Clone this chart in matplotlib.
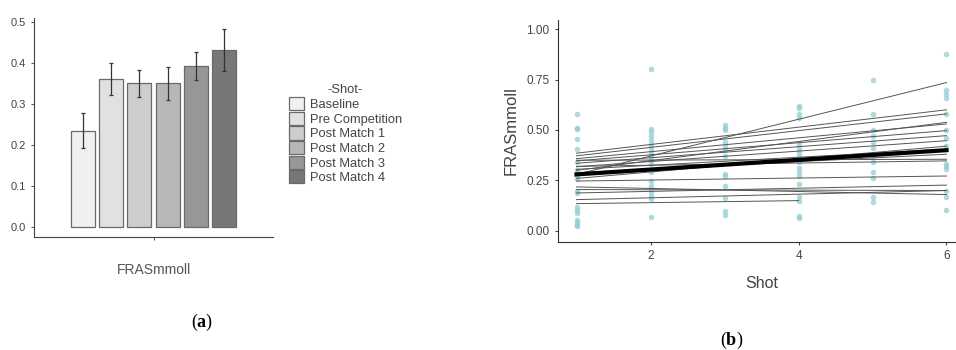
import matplotlib
matplotlib.use("Agg")
import matplotlib.pyplot as plt
import numpy as np

plt.rcParams["font.family"] = ["Liberation Sans", "DejaVu Sans"]
plt.rcParams["mathtext.fontset"] = "custom"
plt.rcParams["mathtext.rm"] = "Liberation Serif"
plt.rcParams["mathtext.bf"] = "Liberation Serif:bold"

# ---- panel (a): mean FRAS by shot ----
shots = ["Baseline", "Pre Competition", "Post Match 1", "Post Match 2",
         "Post Match 3", "Post Match 4"]
means = [0.235, 0.362, 0.350, 0.350, 0.393, 0.432]
errs = [0.042, 0.039, 0.032, 0.040, 0.034, 0.051]
bar_colors = ["#f0f0f0", "#e1e1e1", "#cdcdcd", "#b7b7b7", "#979797", "#777777"]

# ---- panel (b): individual FRAS values and fitted lines ----
pts_x1 = [0.58, 0.51, 0.505, 0.455, 0.405, 0.34, 0.30, 0.27, 0.255, 0.20, 0.19,
          0.12, 0.105, 0.09, 0.055, 0.045, 0.03, 0.022]
pts_x2 = [0.80, 0.505, 0.49, 0.47, 0.45, 0.43, 0.42, 0.40, 0.38, 0.37, 0.35,
          0.33, 0.29, 0.245, 0.22, 0.195, 0.175, 0.16, 0.07]
pts_x3 = [0.525, 0.51, 0.50, 0.44, 0.42, 0.40, 0.37, 0.28, 0.27, 0.22, 0.165,
          0.10, 0.08]
pts_x4 = [0.62, 0.61, 0.58, 0.56, 0.43, 0.41, 0.39, 0.37, 0.34, 0.31, 0.29,
          0.27, 0.23, 0.17, 0.15, 0.075, 0.065]
pts_x5 = [0.75, 0.58, 0.50, 0.47, 0.44, 0.41, 0.37, 0.34, 0.29, 0.26, 0.17, 0.145]
pts_x6 = [0.875, 0.70, 0.68, 0.66, 0.58, 0.50, 0.46, 0.42, 0.33, 0.32, 0.305,
          0.20, 0.17, 0.105]
points = [pts_x1, pts_x2, pts_x3, pts_x4, pts_x5, pts_x6]

# fitted lines per subject: (start shot, end shot, start value, end value)
line_x0 = [1, 1, 1, 1, 1, 1, 1, 1, 1, 1, 1, 1, 1, 1, 1, 1, 1, 1, 1]
line_x1 = [6, 6, 6, 6, 6, 6, 6, 6, 6, 6, 6, 6, 6, 6, 6, 6, 6, 6, 4]
line_y0 = [0.28, 0.385, 0.372, 0.30, 0.358, 0.347, 0.335, 0.318, 0.26, 0.305,
           0.288, 0.35, 0.32, 0.247, 0.218, 0.188, 0.205, 0.155, 0.135]
line_y1 = [0.735, 0.60, 0.58, 0.538, 0.53, 0.497, 0.472, 0.447, 0.42, 0.405,
           0.38, 0.355, 0.347, 0.272, 0.18, 0.227, 0.20, 0.20, 0.15]
fixed_x = [1, 6]
fixed_y = [0.28, 0.40]

fig = plt.figure(figsize=(9.56, 3.5), dpi=100)
W, H = 956, 350


def px_axes(x0, y0, x1, y1):
    return fig.add_axes([x0 / W, 1 - y1 / H, (x1 - x0) / W, (y1 - y0) / H])


# panel (a)
ax1 = px_axes(34, 18, 273, 237)
step, width = 0.1416, 0.12
for i, (m, e, c) in enumerate(zip(means, errs, bar_colors)):
    xpos = 1 + (i - 2.5) * step
    ax1.bar(xpos, m, width, color=c, edgecolor="#6a6a6a", linewidth=0.9,
            label=shots[i], zorder=2)
    ax1.errorbar(xpos, m, yerr=e, color="#333333", capsize=1.5, elinewidth=0.9,
                 capthick=0.9, zorder=3)
ax1.set_xlim(0.4, 1.6)
ax1.set_ylim(-0.025, 0.51)
ax1.set_xticks([1])
ax1.set_xticklabels([""])
ax1.set_yticks([0, 0.1, 0.2, 0.3, 0.4, 0.5])
ax1.set_yticklabels(["0.0", "0.1", "0.2", "0.3", "0.4", "0.5"])
ax1.tick_params(labelsize=8, colors="#555555", length=2.5, width=0.8)
ax1.tick_params(axis="y", labelcolor="#444444")
for s in ["top", "right"]:
    ax1.spines[s].set_visible(False)
for s in ["left", "bottom"]:
    ax1.spines[s].set_color("#444444")
    ax1.spines[s].set_linewidth(0.8)
ax1.set_xlabel("FRASmmoll", fontsize=10, color="#555555", labelpad=13)

leg = ax1.legend(title="-Shot-", loc="upper left", bbox_to_anchor=(1.045, 0.72),
                 frameon=False, fontsize=9.3, title_fontsize=9.3,
                 handlelength=1.15, handleheight=1.2, handletextpad=0.45,
                 labelspacing=0.05, borderaxespad=0)
for t in leg.get_texts():
    t.set_color("#444444")
leg.get_title().set_color("#444444")

fig.text(202 / W, 1 - 322 / H, r"($\mathbf{a}$)", fontsize=13,
         ha="center", va="center", family="Liberation Serif")

# panel (b)
ax2 = px_axes(558, 20, 965, 242)
for k, ys in enumerate(points):
    ax2.scatter(np.full(len(ys), k + 1), ys, s=16, color="#93cdd5",
                alpha=0.75, linewidths=0, zorder=1)
for xa, xb, ya, yb in zip(line_x0, line_x1, line_y0, line_y1):
    ax2.plot([xa, xb], [ya, yb], color="#555555", lw=0.7, zorder=2)
ax2.plot(fixed_x, fixed_y, color="black", lw=3, zorder=3)
ax2.set_xlim(0.75, 6.25)
ax2.set_ylim(-0.055, 1.045)
ax2.set_xticks([2, 4, 6])
ax2.set_yticks([0, 0.25, 0.5, 0.75, 1.0])
ax2.set_yticklabels(["0.00", "0.25", "0.50", "0.75", "1.00"])
ax2.tick_params(labelsize=8.5, colors="#444444", length=2.5, width=0.8)
for s in ["top", "right"]:
    ax2.spines[s].set_visible(False)
for s in ["left", "bottom"]:
    ax2.spines[s].set_color("#333333")
    ax2.spines[s].set_linewidth(0.8)
ax2.set_xlabel("Shot", fontsize=11.5, color="#444444", labelpad=10)
ax2.set_ylabel("FRASmmoll", fontsize=12, color="#444444", labelpad=6)

fig.text(732 / W, 1 - 340 / H, r"($\mathbf{b}$)", fontsize=13,
         ha="center", va="center", family="Liberation Serif")

fig.savefig("out.png", dpi=100)
